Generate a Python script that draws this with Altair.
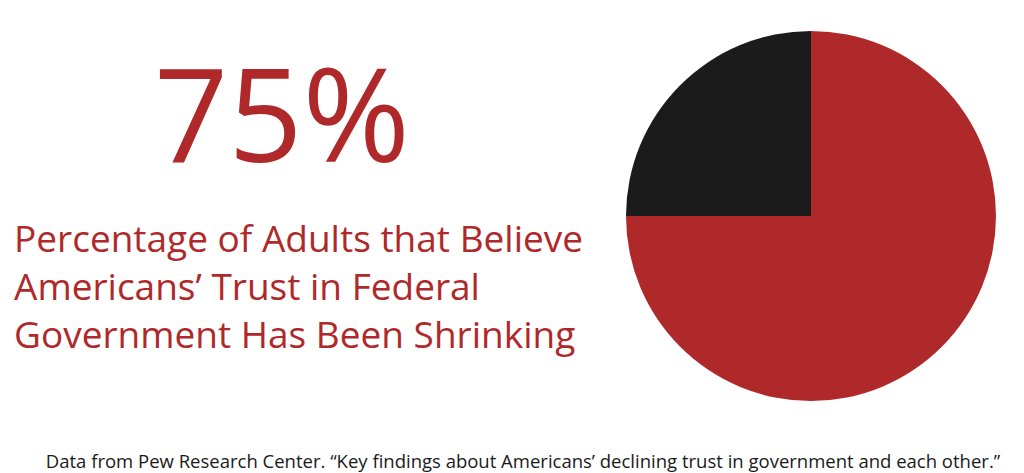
import altair as alt
import pandas as pd

# Data
categories = ["Believe trust is shrinking", "Other"]
values = [75, 25]
order_idx = [0, 1]
colors = ["#B0292A", "#1B1B1B"]

headline = "75%"
subtitle_lines = [
    "Percentage of Adults that Believe",
    "Americans\u2019 Trust in Federal",
    "Government Has Been Shrinking",
]
footer = ("Data from Pew Research Center. \u201cKey findings about Americans\u2019 "
          "declining trust in government and each other.\u201d")

pie_df = pd.DataFrame({"category": categories, "value": values, "idx": order_idx})

FONT = "Open Sans"
RED = "#B0292A"

pie = alt.Chart(pie_df).mark_arc(radius=185).encode(
    theta=alt.Theta("value:Q", stack=True),
    color=alt.Color("category:N", scale=alt.Scale(domain=categories, range=colors), legend=None),
    order=alt.Order("idx:Q"),
    x=alt.value(803),
    y=alt.value(208),
)

one = alt.Data(values=[{}])

big = alt.Chart(one).mark_text(
    font=FONT, fontSize=130, color=RED, align="center", baseline="alphabetic"
).encode(text=alt.value(headline), x=alt.value(274), y=alt.value(154))

sub = alt.Chart(one).mark_text(
    font=FONT, fontSize=37, fontWeight=500, color=RED, align="left", baseline="alphabetic",
    lineHeight=48
).encode(text=alt.value(subtitle_lines), x=alt.value(6), y=alt.value(244))

foot = alt.Chart(one).mark_text(
    font=FONT, fontSize=18.5, fontWeight=500, color="#1A1A1A", align="center",
    baseline="alphabetic"
).encode(text=alt.value(footer), x=alt.value(515), y=alt.value(460))

chart = alt.layer(pie, big, sub, foot).properties(
    width=1008, height=465, padding=0,
    autosize=alt.AutoSizeParams(type="none"),
).configure_view(stroke=None)

chart.save("out.html", embed_options={"renderer": "svg", "actions": False})
